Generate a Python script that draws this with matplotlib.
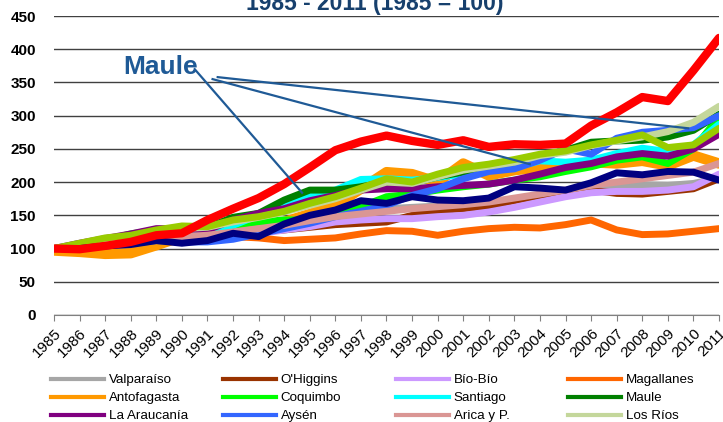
import matplotlib.pyplot as plt
from matplotlib.lines import Line2D

plt.rcParams['font.family'] = ['Liberation Sans', 'DejaVu Sans']

# Datos (1985 = 100)
years = list(range(1985, 2012))

valparaiso = [100, 104, 108, 112, 118, 120, 122, 128, 135, 142, 148, 155, 158, 160, 162, 164, 165, 168, 173, 178, 183, 188, 192, 196, 195, 198, 206]
ohiggins = [100, 103, 106, 110, 113, 116, 118, 122, 125, 128, 132, 136, 138, 140, 150, 157, 160, 164, 172, 180, 186, 188, 183, 182, 186, 190, 205]
biobio = [100, 102, 105, 108, 110, 112, 114, 118, 122, 128, 133, 140, 143, 145, 145, 148, 150, 155, 162, 170, 178, 184, 186, 186, 188, 193, 212]
magallanes = [100, 102, 105, 108, 110, 112, 117, 118, 116, 112, 114, 116, 122, 127, 126, 120, 126, 130, 132, 131, 136, 143, 128, 121, 122, 126, 130]
antofagasta = [97, 95, 92, 93, 105, 118, 120, 130, 135, 140, 152, 165, 190, 215, 212, 200, 228, 210, 218, 222, 225, 230, 228, 232, 225, 240, 228]
coquimbo = [100, 106, 113, 122, 128, 128, 130, 135, 140, 143, 143, 152, 163, 178, 182, 188, 193, 197, 203, 208, 216, 223, 233, 238, 228, 250, 298]
santiago = [100, 103, 108, 112, 118, 122, 128, 135, 150, 165, 180, 188, 204, 205, 203, 207, 212, 218, 222, 232, 230, 233, 243, 251, 246, 256, 287]
maule = [100, 105, 112, 118, 125, 128, 132, 147, 153, 173, 188, 188, 193, 200, 198, 208, 215, 222, 230, 238, 248, 260, 262, 263, 268, 278, 302]
araucania = [100, 108, 115, 122, 130, 130, 128, 143, 153, 160, 172, 180, 188, 190, 190, 193, 195, 197, 203, 212, 222, 228, 238, 243, 239, 250, 272]
aysen = [100, 100, 104, 108, 112, 110, 110, 114, 122, 130, 138, 148, 156, 165, 180, 190, 205, 216, 220, 233, 250, 242, 266, 275, 278, 282, 300]
arica = [100, 102, 106, 110, 115, 118, 120, 125, 130, 135, 142, 148, 152, 156, 160, 163, 166, 170, 176, 182, 188, 195, 200, 205, 210, 215, 228]
losrios = [100, 106, 113, 118, 125, 130, 132, 140, 147, 155, 165, 175, 188, 200, 198, 208, 218, 224, 230, 240, 245, 255, 262, 268, 276, 290, 314]

# series sin entrada visible en la leyenda
serie_verde = [100, 108, 116, 120, 128, 134, 133, 143, 148, 156, 168, 178, 191, 205, 200, 212, 222, 227, 234, 242, 247, 256, 263, 271, 252, 256, 281]
serie_azul = [100, 100, 104, 106, 112, 108, 112, 123, 118, 137, 150, 158, 172, 168, 178, 173, 172, 176, 193, 191, 188, 199, 214, 211, 216, 215, 203]
serie_roja = [100, 99, 104, 110, 120, 123, 143, 160, 176, 197, 222, 248, 261, 270, 262, 256, 263, 253, 257, 256, 258, 285, 305, 328, 322, 368, 417]

names = ['Valparaíso', "O'Higgins", 'Bío-Bío', 'Magallanes',
         'Antofagasta', 'Coquimbo', 'Santiago', 'Maule',
         'La Araucanía', 'Aysén', 'Arica y P.', 'Los Ríos']
series = [valparaiso, ohiggins, biobio, magallanes,
          antofagasta, coquimbo, santiago, maule,
          araucania, aysen, arica, losrios]
colors = ['#A6A6A6', '#993300', '#CC99FF', '#FF6600',
          '#FF9900', '#00FF00', '#00FFFF', '#008000',
          '#800080', '#3366FF', '#DA9694', '#C4D79B']

extra = [serie_verde, serie_azul, serie_roja]
extra_colors = ['#99CC00', '#000080', '#FF0000']

# anotacion "Maule"
maule_text = (1987.7, 362)
maule_starts = [(1990.5, 370), (1991.2, 355), (1991.4, 358)]
maule_ends = [(1994.7, 184), (2003.6, 227), (2009.8, 281)]

fig = plt.figure(figsize=(7.23, 4.22), dpi=100)
ax = fig.add_axes([54/723, 1 - 315/422, 665/723, 299/422])

for name, s, c in zip(names, series, colors):
    lw = 7.5 if name == 'Antofagasta' else 5
    ax.plot(years, s, color=c, lw=lw, solid_capstyle='round', solid_joinstyle='round')
for s, c in zip(extra, extra_colors):
    lw = 6 if c == '#FF0000' else 5
    ax.plot(years, s, color=c, lw=lw, solid_capstyle='round', solid_joinstyle='round')

ax.set_xlim(1985, 2011)
ax.set_ylim(0, 450)
ax.set_yticks(range(0, 451, 50))
ax.set_xticks(years)
ax.set_xticklabels([str(y) for y in years], rotation=45, ha='right',
                   rotation_mode='anchor', fontsize=11)
ax.tick_params(axis='x', direction='out', length=4, color='#808080', pad=4)
ax.tick_params(axis='y', length=0, pad=13, labelsize=11)
for lab in ax.get_yticklabels():
    lab.set_fontweight('bold')
ax.yaxis.grid(True, color='#404040', lw=1)
ax.set_axisbelow(True)
for sp in ['top', 'right', 'left']:
    ax.spines[sp].set_visible(False)
ax.spines['bottom'].set_color('#808080')

# Maule
ax.text(maule_text[0], maule_text[1], 'Maule', fontsize=19, fontweight='bold',
        color='#1F5A96', ha='left', va='baseline')
for p0, p1 in zip(maule_starts, maule_ends):
    ax.plot([p0[0], p1[0]], [p0[1], p1[1]], color='#1F5A96', lw=1.6, zorder=5)

# titulo (cortado arriba)
fig.text(375/723, 1 - 10/422, '1985 - 2011 (1985 = 100)', ha='center', va='baseline',
         fontsize=16.5, fontweight='bold', color='#17406D')

# leyenda: 4 columnas
col_x = [53, 225, 398, 570]
for k in range(4):
    handles = [Line2D([], [], color=colors[k + 4*r], lw=3) for r in range(3)]
    labels = [names[k + 4*r] for r in range(3)]
    fig.legend(handles, labels, loc='upper left',
               bbox_to_anchor=(col_x[k]/723 - 0.003, 1 - 374/422),
               frameon=False, fontsize=9.6, handlelength=4.0, handletextpad=0.35,
               labelspacing=0.42, borderpad=0, borderaxespad=0)

plt.savefig('out.png', dpi=100)
